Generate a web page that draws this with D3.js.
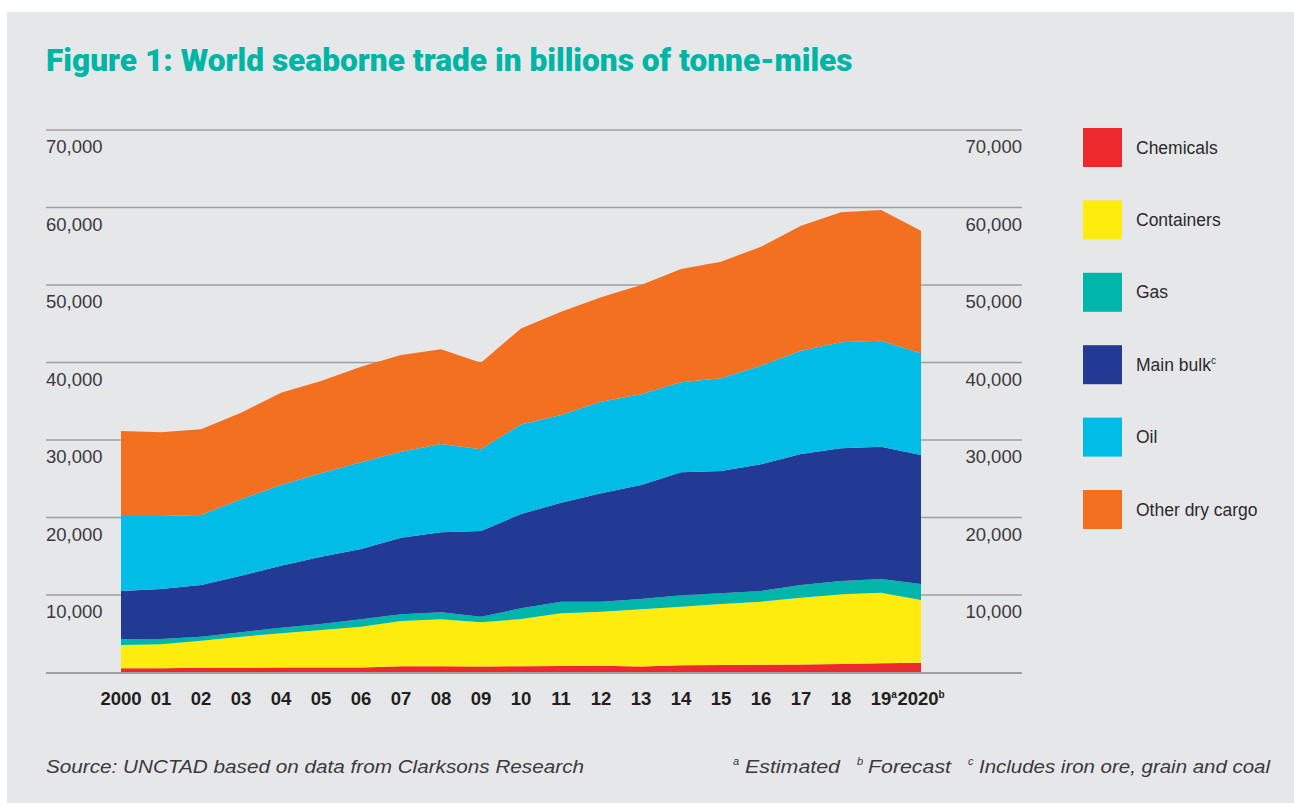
<!DOCTYPE html>
<html>
<head>
<meta charset="utf-8">
<script src="https://cdn.jsdelivr.net/npm/d3@7"></script>
<style>
  html, body { margin: 0; padding: 0; background: #ffffff; }
  svg { display: block; }
</style>
</head>
<body>
<svg id="chart" width="1294" height="803"></svg>
<script>
// ---------- DATA ----------
const years = [2000, 2001, 2002, 2003, 2004, 2005, 2006, 2007, 2008, 2009, 2010,
               2011, 2012, 2013, 2014, 2015, 2016, 2017, 2018, 2019, 2020];
const yearLabels = ["2000", "01", "02", "03", "04", "05", "06", "07", "08", "09", "10",
                    "11", "12", "13", "14", "15", "16", "17", "18", "19", "2020"];
const yearSup = {"19": "a", "2020": "b"};

const chemicals = [550, 560, 600, 620, 640, 650, 660, 800, 800, 780, 800,
                   850, 870, 780, 950, 980, 1000, 1030, 1100, 1180, 1250];
const containers = [3000, 3080, 3500, 4000, 4420, 4830, 5250, 5850, 6060, 5700, 6100,
                    6790, 6980, 7370, 7540, 7860, 8140, 8630, 8990, 9120, 8100];
const gas = [730, 680, 520, 570, 720, 780, 950, 860, 910, 720, 1380,
             1500, 1290, 1330, 1470, 1380, 1380, 1630, 1720, 1760, 2070];
const mainBulk = [6240, 6450, 6670, 7300, 8000, 8680, 9070, 9890, 10320, 11060, 12170,
                  12770, 13980, 14710, 15870, 15780, 16340, 16900, 17120, 17080, 16640];
const oil = [9670, 9420, 9030, 9860, 10410, 10760, 11190, 11090, 11390, 10540, 11550,
             11320, 11820, 11700, 11610, 11960, 12730, 13340, 13670, 13680, 13130];
const otherDry = [10970, 10810, 11060, 11180, 11910, 11910, 12340, 12480, 12220, 11180, 12400,
                  13330, 13470, 14110, 14620, 15050, 15350, 16130, 16780, 16860, 15820];

const seriesKeys = ["Chemicals", "Containers", "Gas", "Main bulk", "Oil", "Other dry cargo"];
const seriesSup = {"Main bulk": "c"};
const colors = ["#EC2A2E", "#FFEC0F", "#00B6AA", "#233A95", "#00BCE6", "#F37021"];
const yTicks = [10000, 20000, 30000, 40000, 50000, 60000, 70000];

const titleText = "Figure 1: World seaborne trade in billions of tonne-miles";
const sourceText = "Source: UNCTAD based on data from Clarksons Research";
const noteMarks = ["a", "b", "c"];
const noteTexts = ["Estimated", "Forecast", "Includes iron ore, grain and coal"];

// ---------- BUILD TABLE ----------
const seriesArrays = [chemicals, containers, gas, mainBulk, oil, otherDry];
const table = years.map((yr, i) => {
  const row = {year: yr};
  seriesKeys.forEach((k, j) => row[k] = seriesArrays[j][i]);
  return row;
});

// ---------- LAYOUT ----------
const svg = d3.select("#chart");
const W = 1294, H = 803;

svg.append("rect").attr("x", 7).attr("y", 12).attr("width", W - 7).attr("height", H - 12)
   .attr("fill", "#E6E7E9");

const x = d3.scaleLinear().domain([2000, 2020]).range([121, 921]);
const y = d3.scaleLinear().domain([0, 70000]).range([672.5, 130]);
const gridLeft = 46, gridRight = 1022;

// gridlines
svg.append("g").selectAll("line").data(yTicks).join("line")
  .attr("x1", gridLeft).attr("x2", gridRight)
  .attr("y1", d => y(d)).attr("y2", d => y(d))
  .attr("stroke", "#9d9fa2").attr("stroke-width", 1.5);

// stacked areas
const stacked = d3.stack().keys(seriesKeys)(table);
const area = d3.area()
  .x(d => x(d.data.year))
  .y0(d => y(d[0]))
  .y1(d => y(d[1]));
svg.append("g").selectAll("path").data(stacked).join("path")
  .attr("d", area)
  .attr("fill", (d, i) => colors[i]);

// baseline axis line
svg.append("line").attr("x1", gridLeft).attr("x2", gridRight)
  .attr("y1", y(0) + 0.5).attr("y2", y(0) + 0.5)
  .attr("stroke", "#9d9fa2").attr("stroke-width", 2);

// y labels left and right (below each gridline)
const labelFont = "'Liberation Sans', Arial, Helvetica, sans-serif";
const fmt = d3.format(",");
svg.append("g").selectAll("text").data(yTicks).join("text")
  .attr("x", gridLeft).attr("y", d => y(d) + 23)
  .attr("font-family", labelFont).attr("font-size", 18.5)
  .attr("fill", "#3a3a3c")
  .text(d => fmt(d));
svg.append("g").selectAll("text").data(yTicks).join("text")
  .attr("x", gridRight).attr("y", d => y(d) + 23)
  .attr("text-anchor", "end")
  .attr("font-family", labelFont).attr("font-size", 18.5)
  .attr("fill", "#3a3a3c")
  .text(d => fmt(d));

// x labels
svg.append("g").selectAll("text").data(years).join("text")
  .attr("y", 705)
  .attr("font-family", labelFont).attr("font-size", 18.5).attr("font-weight", "bold")
  .attr("fill", "#231f20")
  .each(function(d, i) {
    const t = d3.select(this);
    const lab = yearLabels[i];
    const main = t.append("tspan").text(lab);
    if (yearSup[lab]) {
      t.append("tspan").attr("font-size", 10).attr("dy", -7).text(yearSup[lab]);
    }
    const mainW = main.node().getComputedTextLength();
    let cx = x(d);
    if (lab === "2020") cx = x(d) - 3;
    t.attr("x", cx - mainW / 2);
  });

// title
const title = svg.append("text")
  .attr("x", 46).attr("y", 71)
  .attr("font-family", "Roboto, 'Open Sans', sans-serif")
  .attr("font-weight", 900).attr("font-size", 29)
  .attr("fill", "#00B5A6")
  .text(titleText);
const tw = title.node().getComputedTextLength();
title.attr("font-size", 29 * 807 / tw);

// legend
const legend = svg.append("g");
seriesKeys.forEach((k, i) => {
  const top = 128 + i * 72.4;
  legend.append("rect").attr("x", 1083).attr("y", top).attr("width", 39).attr("height", 39)
    .attr("fill", colors[i]);
  const t = legend.append("text").attr("x", 1136).attr("y", top + 25.5)
    .attr("font-family", labelFont).attr("font-size", 17.5).attr("fill", "#2b2b2d");
  t.append("tspan").text(k);
  if (seriesSup[k]) t.append("tspan").attr("font-size", 10).attr("dy", -7).text(seriesSup[k]);
});

// footnotes
svg.append("text").attr("x", 46).attr("y", 773)
  .attr("font-family", labelFont).attr("font-style", "italic")
  .attr("font-size", 19).attr("fill", "#3a3a3c")
  .attr("textLength", 538).attr("lengthAdjust", "spacingAndGlyphs")
  .text(sourceText);

const markX = [733, 857, 968];
const noteX = [745, 868, 979];
const noteW = [95, 83, 291];
noteMarks.forEach((m, i) => {
  svg.append("text").attr("x", markX[i]).attr("y", 765)
    .attr("font-family", labelFont).attr("font-style", "italic")
    .attr("font-size", 11).attr("fill", "#3a3a3c").text(m);
  svg.append("text").attr("x", noteX[i]).attr("y", 773)
    .attr("font-family", labelFont).attr("font-style", "italic")
    .attr("font-size", 19).attr("fill", "#3a3a3c")
    .attr("textLength", noteW[i]).attr("lengthAdjust", "spacingAndGlyphs")
    .text(noteTexts[i]);
});
</script>
</body>
</html>
